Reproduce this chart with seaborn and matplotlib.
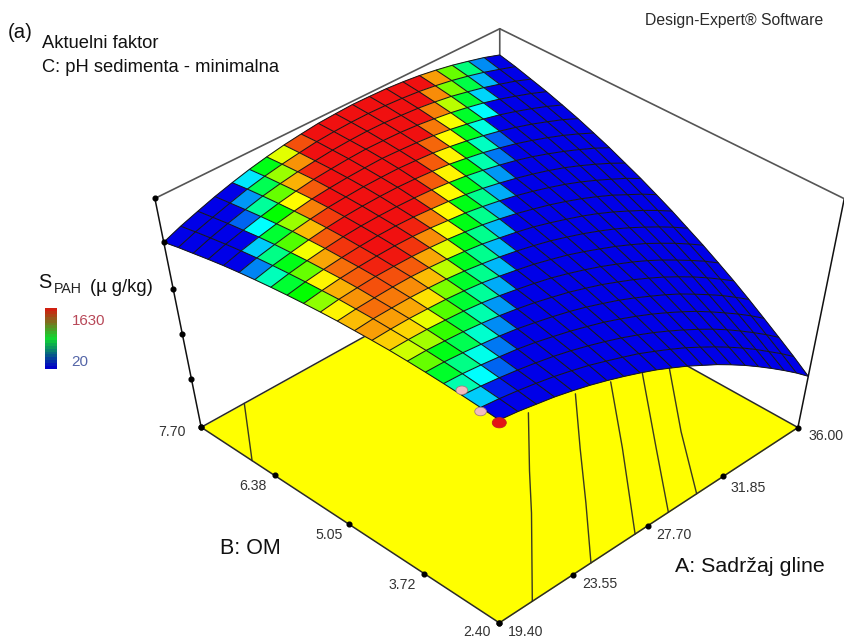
import matplotlib

matplotlib.use("Agg")
import matplotlib.pyplot as plt
import numpy as np
import seaborn as sns
from matplotlib.colors import LinearSegmentedColormap
from matplotlib.markers import MarkerStyle
from matplotlib.transforms import Affine2D

FIG_W, FIG_H = 844, 641

A_LIM = (19.40, 36.00)
B_LIM = (2.40, 7.70)
Z_LIM = (0, 1000)
# where the tick dots sit on the drawn box
A_TICK_MARKS = [19.40, 23.22, 27.31, 31.57, 36.00]
B_TICK_MARKS = [2.40, 3.65, 4.96, 6.31, 7.70]
Z_TICK_MARKS = [0, 235, 445, 640, 830, 1000]

A_NODES = [19.40, 20.23, 21.06, 21.89, 22.72, 23.55, 24.38, 25.21, 26.04, 26.87, 27.70,
           28.53, 29.36, 30.19, 31.02, 31.85, 32.68, 33.51, 34.34, 35.17, 36.00]
B_NODES = [2.400, 2.665, 2.930, 3.195, 3.460, 3.725, 3.990, 4.255, 4.520, 4.785, 5.050,
           5.315, 5.580, 5.845, 6.110, 6.375, 6.640, 6.905, 7.170, 7.435, 7.700]

# surface height at each node, one row per B node
SURFACE_HEIGHT = [
    [936, 925, 910, 895, 876, 855, 831, 805, 777, 747, 713, 678, 639, 600, 557, 512, 464, 414, 362, 308, 250],
    [941, 932, 920, 906, 890, 871, 850, 825, 799, 772, 740, 707, 672, 633, 593, 550, 505, 457, 406, 355, 300],
    [945, 938, 928, 916, 902, 886, 867, 845, 821, 795, 766, 735, 701, 665, 627, 587, 544, 498, 450, 400, 347],
    [948, 944, 936, 926, 915, 900, 882, 863, 841, 818, 791, 762, 731, 697, 661, 623, 581, 537, 492, 444, 393],
    [950, 948, 942, 934, 925, 913, 897, 880, 861, 839, 814, 788, 758, 726, 693, 657, 617, 576, 533, 486, 438],
    [951, 951, 947, 942, 934, 924, 911, 896, 878, 859, 836, 812, 784, 755, 723, 689, 652, 613, 571, 527, 481],
    [951, 952, 951, 947, 942, 934, 923, 909, 894, 877, 856, 833, 808, 780, 751, 719, 684, 646, 607, 566, 521],
    [949, 952, 953, 951, 948, 942, 934, 922, 908, 893, 874, 854, 830, 804, 777, 747, 715, 679, 642, 602, 560],
    [946, 952, 954, 955, 953, 949, 942, 932, 921, 907, 891, 873, 851, 828, 802, 774, 743, 709, 674, 636, 596],
    [943, 950, 954, 957, 958, 955, 950, 943, 934, 921, 907, 891, 871, 849, 826, 800, 771, 739, 706, 670, 632],
    [938, 948, 954, 959, 960, 960, 957, 952, 944, 935, 922, 907, 889, 870, 848, 824, 797, 768, 735, 702, 665],
    [932, 943, 952, 958, 962, 964, 963, 959, 952, 945, 934, 921, 906, 888, 868, 846, 821, 793, 763, 732, 697],
    [925, 938, 948, 956, 962, 966, 967, 965, 960, 954, 945, 934, 920, 904, 886, 866, 843, 817, 789, 759, 726],
    [917, 932, 944, 954, 962, 967, 969, 969, 967, 963, 956, 947, 935, 921, 905, 886, 864, 840, 814, 786, 755],
    [908, 925, 938, 950, 960, 967, 971, 973, 973, 970, 965, 958, 947, 935, 920, 903, 883, 861, 837, 810, 781],
    [898, 917, 932, 946, 957, 966, 971, 975, 976, 976, 972, 967, 958, 947, 934, 919, 901, 881, 858, 834, 806],
    [887, 907, 924, 939, 952, 963, 970, 975, 978, 980, 977, 973, 967, 958, 946, 933, 917, 898, 877, 854, 828],
    [874, 896, 914, 931, 946, 958, 968, 974, 979, 982, 981, 979, 974, 966, 957, 945, 931, 914, 894, 873, 849],
    [860, 884, 904, 922, 939, 952, 963, 971, 978, 982, 984, 983, 979, 974, 966, 956, 942, 927, 909, 890, 867],
    [846, 871, 892, 912, 931, 946, 958, 968, 977, 982, 985, 986, 984, 980, 974, 965, 954, 940, 924, 905, 885],
    [830, 857, 880, 902, 921, 938, 952, 964, 973, 981, 985, 988, 987, 985, 980, 973, 963, 951, 936, 920, 900],
]

# colour level of each cell in percent of the scale, one row per B cell
CELL_LEVEL = [
    [0] * 20,
    [20, 3] + [0] * 18,
    [33, 25, 10] + [0] * 17,
    [46, 37, 27, 12] + [0] * 16,
    [60, 48, 42, 30, 14] + [0] * 15,
    [70, 66, 55, 44, 33, 15] + [0] * 14,
    [80, 79, 73, 58, 45, 35, 17] + [0] * 13,
    [85, 85, 84, 78, 62, 46, 36, 18] + [0] * 12,
    [82, 90, 89, 87, 82, 68, 47, 36, 18] + [0] * 11,
    [76, 86, 93, 93, 92, 84, 72, 48, 36, 18] + [0] * 10,
    [64, 83, 92, 98, 99, 96, 87, 74, 48, 36, 17] + [0] * 9,
    [50, 76, 90, 97, 100, 100, 98, 89, 75, 48, 36, 17] + [0] * 8,
    [45, 60, 84, 96, 100, 100, 100, 100, 91, 75, 48, 34, 15] + [0] * 7,
    [32, 48, 74, 92, 100, 100, 100, 100, 100, 92, 76, 49, 33, 12] + [0] * 6,
    [13, 37, 58, 82, 95, 100, 100, 100, 100, 100, 92, 76, 49, 31, 10] + [0] * 5,
    [0, 20, 45, 65, 88, 100, 100, 100, 100, 100, 100, 91, 75, 47, 28, 0] + [0] * 4,
    [0, 0, 25, 50, 75, 92, 100, 100, 100, 100, 100, 100, 89, 74, 46, 25, 0] + [0] * 3,
    [0, 0, 10, 35, 60, 83, 97, 100, 100, 100, 100, 100, 100, 88, 68, 45, 21, 0] + [0] * 2,
    [0, 0, 0, 15, 42, 65, 86, 100, 100, 100, 100, 100, 100, 100, 87, 62, 43, 18, 0, 0],
    [0, 0, 0, 0, 23, 48, 72, 93, 100, 100, 100, 100, 100, 100, 100, 85, 60, 38, 14, 0],
]

# contour traces on the floor, as (A values, B values)
FLOOR_CONTOURS = [
    ([19.40, 21.64], [6.73, 7.70]),
    ([21.10, 24.75, 26.55, 29.19], [2.40, 3.56, 4.16, 5.01]),
    ([24.20, 26.65, 28.95, 31.42], [2.40, 3.23, 4.03, 4.87]),
    ([26.60, 30.15, 33.01], [2.40, 3.67, 4.73]),
    ([28.45, 31.10, 34.34], [2.40, 3.38, 4.57]),
    ([30.05, 32.55, 35.37], [2.40, 3.38, 4.40]),
]

DESIGN_A = [19.40, 19.40, 19.40]
DESIGN_B = [2.400, 2.665, 2.930]
DESIGN_Z = [925, 925, 965]
DESIGN_COLORS = ["#e41414", "#f2bcbc", "#f2bcbc"]

LEGEND_LEVELS = [1630, 1550, 1470, 1389, 1308, 1228, 1147, 1067, 986, 906, 825,
                 744, 664, 583, 503, 422, 342, 262, 181, 101, 20]

TICK_LABELS = [
    ("7.70", 172, 432), ("6.38", 253, 486), ("5.05", 329, 535), ("3.72", 402, 585), ("2.40", 477, 632),
    ("19.40", 526, 632), ("23.55", 600, 584), ("27.70", 674, 535), ("31.85", 748, 488), ("36.00", 826, 436),
]


def put_text(fig, x, y, text, **kwargs):
    fig.text(x / FIG_W, 1 - y / FIG_H, text, va="center", **kwargs)


def draw_surface(ax):
    surface_cmap = LinearSegmentedColormap.from_list(
        "response", ["#0000e8", "#00ffff", "#00ff00", "#ffff00", "#f01010"]
    )
    a_grid, b_grid = np.meshgrid(A_NODES, B_NODES)
    heights = np.array(SURFACE_HEIGHT, dtype=float)

    floor_a, floor_b = np.meshgrid(A_LIM, B_LIM)
    ax.plot_surface(
        floor_a, floor_b, np.zeros((2, 2)), color="#ffff00", shade=False, linewidth=0, zorder=1, clip_on=False
    )

    for contour_a, contour_b in FLOOR_CONTOURS:
        ax.plot(contour_a, contour_b, 0, color="#3a3a20", linewidth=1.0, zorder=2, clip_on=False)

    a0, a1 = A_LIM
    b0, b1 = B_LIM
    z1 = Z_LIM[1]
    for xs, ys, zs in [
        ([a0, a1], [b0, b0], [0, 0]), ([a0, a0], [b0, b1], [0, 0]),
        ([a1, a1], [b0, b1], [0, 0]), ([a0, a1], [b1, b1], [0, 0]),
    ]:
        ax.plot(xs, ys, zs, color="#2a2a2a", linewidth=1.1, zorder=2, clip_on=False)
    for xs, ys, zs in [([a0, a0], [b1, b1], [0, z1]), ([a1, a1], [b0, b0], [0, z1])]:
        ax.plot(xs, ys, zs, color="#111111", linewidth=1.1, zorder=2, clip_on=False)
    for xs, ys, zs in [
        ([a0, a1], [b1, b1], [z1, z1]), ([a1, a1], [b0, b1], [z1, z1]), ([a1, a1], [b1, b1], [0, z1]),
    ]:
        ax.plot(xs, ys, zs, color="#555555", linewidth=1.2, zorder=2, clip_on=False)

    ax.plot_surface(
        a_grid,
        b_grid,
        heights,
        facecolors=surface_cmap(np.array(CELL_LEVEL) / 100),
        rstride=1,
        cstride=1,
        shade=False,
        linewidth=0.3,
        zorder=3,
        clip_on=False,
    )
    mesh = ax.plot_wireframe(
        a_grid, b_grid, heights, rstride=1, cstride=1, color="#181818", linewidth=0.75, zorder=4
    )
    mesh.set_clip_on(False)

    tick_style = dict(linestyle="none", marker="o", markersize=3.4, color="black", zorder=5, clip_on=False)
    ax.plot(A_TICK_MARKS, [b0] * 5, [0] * 5, **tick_style)
    ax.plot([a0] * 5, B_TICK_MARKS, [0] * 5, **tick_style)
    ax.plot([a0] * 6, [b1] * 6, Z_TICK_MARKS, **tick_style)

    oval = MarkerStyle("o", transform=Affine2D().scale(1.3, 0.95))
    ax.scatter(
        DESIGN_A, DESIGN_B, DESIGN_Z,
        c=DESIGN_COLORS, s=[60, 42, 42], marker=oval, edgecolors=["#c02020", "#a08080", "#a08080"],
        linewidths=0.6, depthshade=False, zorder=6, clip_on=False,
    )


def draw_legend(fig):
    legend_cmap = LinearSegmentedColormap.from_list("legend", ["#0000c8", "#10d830", "#d02010"])
    legend_ax = fig.add_axes([45 / FIG_W, 1 - 369 / FIG_H, 12 / FIG_W, 61 / FIG_H])
    sns.heatmap(
        np.array(LEGEND_LEVELS).reshape(-1, 1),
        cmap=legend_cmap,
        vmin=20,
        vmax=1630,
        cbar=False,
        xticklabels=False,
        yticklabels=False,
        ax=legend_ax,
    )


def draw_texts(fig):
    put_text(fig, 8, 32, "(a)", fontsize=14.7, color="#111111")
    put_text(fig, 42, 43, "Aktuelni faktor", fontsize=13.2, color="#111111")
    put_text(fig, 42, 68, "C: pH sedimenta - minimalna", fontsize=13.2, color="#111111")
    put_text(fig, 645, 21, "Design-Expert\u00ae Software", fontsize=11.3, color="#2a2a2a")
    put_text(fig, 38, 283, "S", fontsize=14.4, color="#111111")
    put_text(fig, 54, 289, "PAH", fontsize=10.2, color="#222222")
    put_text(fig, 90, 288, "(\u00b5 g/kg)", fontsize=13.2, color="#111111")
    put_text(fig, 72, 321, "1630", fontsize=10.8, color="#b84858")
    put_text(fig, 71, 362, "20", fontsize=11, color="#5566a8")
    put_text(fig, 220, 549, "B: OM", fontsize=15.5, color="#111111")
    put_text(fig, 675, 566, "A: Sadr\u017eaj gline", fontsize=15.4, color="#111111")
    for label, x, y in TICK_LABELS:
        put_text(fig, x, y, label, fontsize=10.2, color="#333333", ha="center")


def main():
    sns.set_theme(style="white")
    plt.rcParams["font.family"] = ["Liberation Sans", "DejaVu Sans"]

    fig = plt.figure(figsize=(FIG_W / 100, FIG_H / 100), dpi=100)
    ax = fig.add_axes(
        [107.44 / FIG_W, 22.36 / FIG_H, 763.56 / FIG_W, 579.18 / FIG_H],
        projection="3d",
        computed_zorder=False,
    )
    # the 3D box is stretched to the axes rectangle, not kept square
    ax.apply_aspect = lambda position=None: None
    ax.set_xlim(*A_LIM)
    ax.set_ylim(*B_LIM)
    ax.set_zlim(*Z_LIM)
    ax.view_init(elev=49.02, azim=-134.96)
    ax.set_proj_type("persp", focal_length=0.5808)
    ax.set_box_aspect((1, 1, 1.0117))
    ax.set_axis_off()
    ax.patch.set_alpha(0)

    draw_surface(ax)
    draw_legend(fig)
    draw_texts(fig)

    fig.savefig("out.png", dpi=100)


if __name__ == "__main__":
    main()
